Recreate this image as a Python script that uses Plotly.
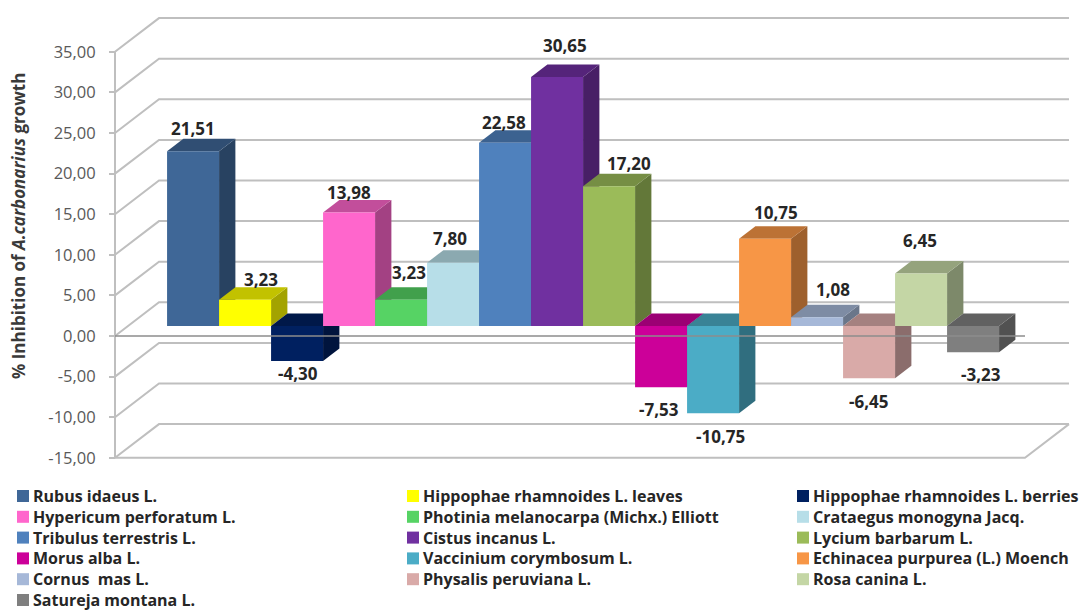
import plotly.graph_objects as go

# Species and % inhibition of A. carbonarius growth
species = [
    "Rubus idaeus L.", "Hippophae rhamnoides L. leaves", "Hippophae rhamnoides L. berries",
    "Hypericum perforatum L.", "Photinia melanocarpa (Michx.) Elliott", "Crataegus monogyna Jacq.",
    "Tribulus terrestris L.", "Cistus incanus L.", "Lycium barbarum L.",
    "Morus alba L.", "Vaccinium corymbosum L.", "Echinacea purpurea (L.) Moench",
    "Cornus  mas L.", "Physalis peruviana L.", "Rosa canina L.",
    "Satureja montana L.",
]
inhibition = [21.51, 3.23, -4.30, 13.98, 3.23, 7.80, 22.58, 30.65, 17.20,
              -7.53, -10.75, 10.75, 1.08, -6.45, 6.45, -3.23]
colors = ["#3F6797", "#FFFF00", "#002060", "#FF66CC", "#56D364", "#B7DEE8", "#4F81BD", "#7030A0",
          "#9BBB59", "#CC0099", "#4BACC6", "#F79646", "#A6B8D8", "#D9AAA8", "#C4D6A5", "#7F7F7F"]
tick_values = [35, 30, 25, 20, 15, 10, 5, 0, -5, -10, -15]

# Pixel nudges of the value labels relative to each bar's end
label_dx = [0, 16, 1, 0, 8, -3, -1, 8, 20, -2, 7, 11, 16, -1, -1, 8]
label_dy = [23, 20, -13, 20, 27, 24, 20, 32, 23, -22, -23, 26, 28, -23, 33, -22]

WIDTH, HEIGHT = 1085, 612
WALL_LEFT_PX, ZERO_PX = 115, 336        # front-left corner of the chart box
BAR_PX, UNIT_PX = 52, 8.12              # one bar slot, one percent
GAP = 0.75                              # empty slots at each end, in bar widths
SLOTS = len(inhibition) + 2 * GAP
DEPTH_X, DEPTH_Y = 44 / BAR_PX, 33.7 / UNIT_PX   # full box depth in axis units
BAR_NEAR, BAR_FAR = 0.297, 0.668        # bar front and back, as fractions of box depth
GRID = "#BFBFBF"
FONT = "Open Sans"


def shade(hex_color, factor):
    r, g, b = (int(hex_color[k:k + 2], 16) for k in (1, 3, 5))
    return f"rgb({r * factor:.0f},{g * factor:.0f},{b * factor:.0f})"


def at_depth(x, v, depth):
    """Oblique projection of a point lying `depth` into the box."""
    return x + depth * DEPTH_X, v + depth * DEPTH_Y


fig = go.Figure()

# Box walls: diagonal side-wall lines, back-wall lines, then the floor's right edge
grid_x, grid_y = [], []
for v in tick_values:
    bx, by = at_depth(0, v, 1)
    ex, _ = at_depth(SLOTS, v, 1)
    grid_x += [0, bx, ex, None]
    grid_y += [v, by, by, None]
fx, fy = at_depth(SLOTS, min(tick_values), 1)
grid_x += [0, SLOTS, fx, None]
grid_y += [min(tick_values), min(tick_values), fy, None]
fig.add_trace(go.Scatter(x=grid_x, y=grid_y, mode="lines", line=dict(color=GRID, width=2),
                         hoverinfo="skip", showlegend=False, zorder=0))
fig.add_trace(go.Scatter(x=[0, 0], y=[min(tick_values), max(tick_values)], mode="lines",
                         line=dict(color=GRID, width=2), hoverinfo="skip", showlegend=False, zorder=0))

# Bars, painted left to right so that each one covers its left neighbour's side
for i, (name, v, c) in enumerate(zip(species, inhibition, colors)):
    left, right = GAP + i, GAP + i + 1
    high = max(v, 0)
    z = 1 + 3 * i

    corners = [at_depth(right, 0, BAR_NEAR), at_depth(right, 0, BAR_FAR),
               at_depth(right, v, BAR_FAR), at_depth(right, v, BAR_NEAR)]
    fig.add_trace(go.Scatter(x=[p[0] for p in corners], y=[p[1] for p in corners], fill="toself",
                             mode="none", fillcolor=shade(c, 0.64), hoverinfo="skip",
                             showlegend=False, zorder=z))

    corners = [at_depth(left, high, BAR_NEAR), at_depth(right, high, BAR_NEAR),
               at_depth(right, high, BAR_FAR), at_depth(left, high, BAR_FAR)]
    fig.add_trace(go.Scatter(x=[p[0] for p in corners], y=[p[1] for p in corners], fill="toself",
                             mode="none", fillcolor=shade(c, 0.76), hoverinfo="skip",
                             showlegend=False, zorder=z + 1))

    cx, base = at_depth(left + 0.5, 0, BAR_NEAR)
    fig.add_trace(go.Bar(x=[cx], y=[v], base=[base], width=[1], name=name,
                         marker=dict(color=c, line=dict(width=0)), showlegend=False, zorder=z + 2))

    fig.add_annotation(x=cx, y=base + v, xref="x", yref="y", text=f"<b>{v:.2f}</b>".replace(".", ","),
                       showarrow=False, xshift=label_dx[i], yshift=label_dy[i],
                       xanchor="center", yanchor="middle",
                       font=dict(family=FONT, size=17, color="#262626"))

# Zero line of the front plane shows faintly through the bars
fig.add_trace(go.Scatter(x=[0, SLOTS], y=[0, 0], mode="lines",
                         line=dict(color="rgba(140,140,140,0.75)", width=2),
                         hoverinfo="skip", showlegend=False, zorder=100))

# Legend laid out as three columns
legend_columns = [17, 407, 797]
shapes = []
for i, (name, c) in enumerate(zip(species, colors)):
    col, row = i % 3, i // 3
    y_px = 496 + 20.8 * row
    x_px = legend_columns[col]
    shapes.append(dict(type="rect", xref="paper", yref="paper", line=dict(width=0), fillcolor=c,
                       x0=x_px / WIDTH, x1=(x_px + 12) / WIDTH,
                       y0=1 - (y_px + 6) / HEIGHT, y1=1 - (y_px - 6) / HEIGHT))
    fig.add_annotation(x=(x_px + 15) / WIDTH, y=1 - y_px / HEIGHT, xref="paper", yref="paper",
                       xanchor="left", yanchor="middle", text=f"<b>{name}</b>", showarrow=False,
                       borderpad=0, font=dict(family=FONT, size=16, color="#262626"))

# Value-axis title
fig.add_annotation(x=18 / WIDTH, y=1 - 226 / HEIGHT, xref="paper", yref="paper", textangle=-90,
                   xanchor="center", yanchor="middle",
                   text="<b>% Inhibition of <i>A.carbonarius</i> growth</b>", showarrow=False,
                   font=dict(family=FONT, size=17, color="#3A3A3A"))

fig.update_layout(
    width=WIDTH, height=HEIGHT, margin=dict(l=0, r=0, t=0, b=0),
    paper_bgcolor="white", plot_bgcolor="white", barmode="overlay", shapes=shapes,
    xaxis=dict(domain=[0, 1], range=[-WALL_LEFT_PX / BAR_PX, (WIDTH - WALL_LEFT_PX) / BAR_PX],
               visible=False, fixedrange=True),
    yaxis=dict(domain=[0, 1], range=[(ZERO_PX - HEIGHT) / UNIT_PX, ZERO_PX / UNIT_PX],
               anchor="free", position=WALL_LEFT_PX / WIDTH, side="left", showgrid=False, zeroline=False,
               showline=False, tickmode="array", tickvals=tick_values,
               ticktext=[f"{v:.2f}".replace(".", ",") for v in tick_values],
               ticks="outside", ticklen=6, tickwidth=2, tickcolor=GRID, ticklabelstandoff=10,
               tickfont=dict(family=FONT, size=16.5, color="#595959"), fixedrange=True),
)

fig.write_html("out.html")
